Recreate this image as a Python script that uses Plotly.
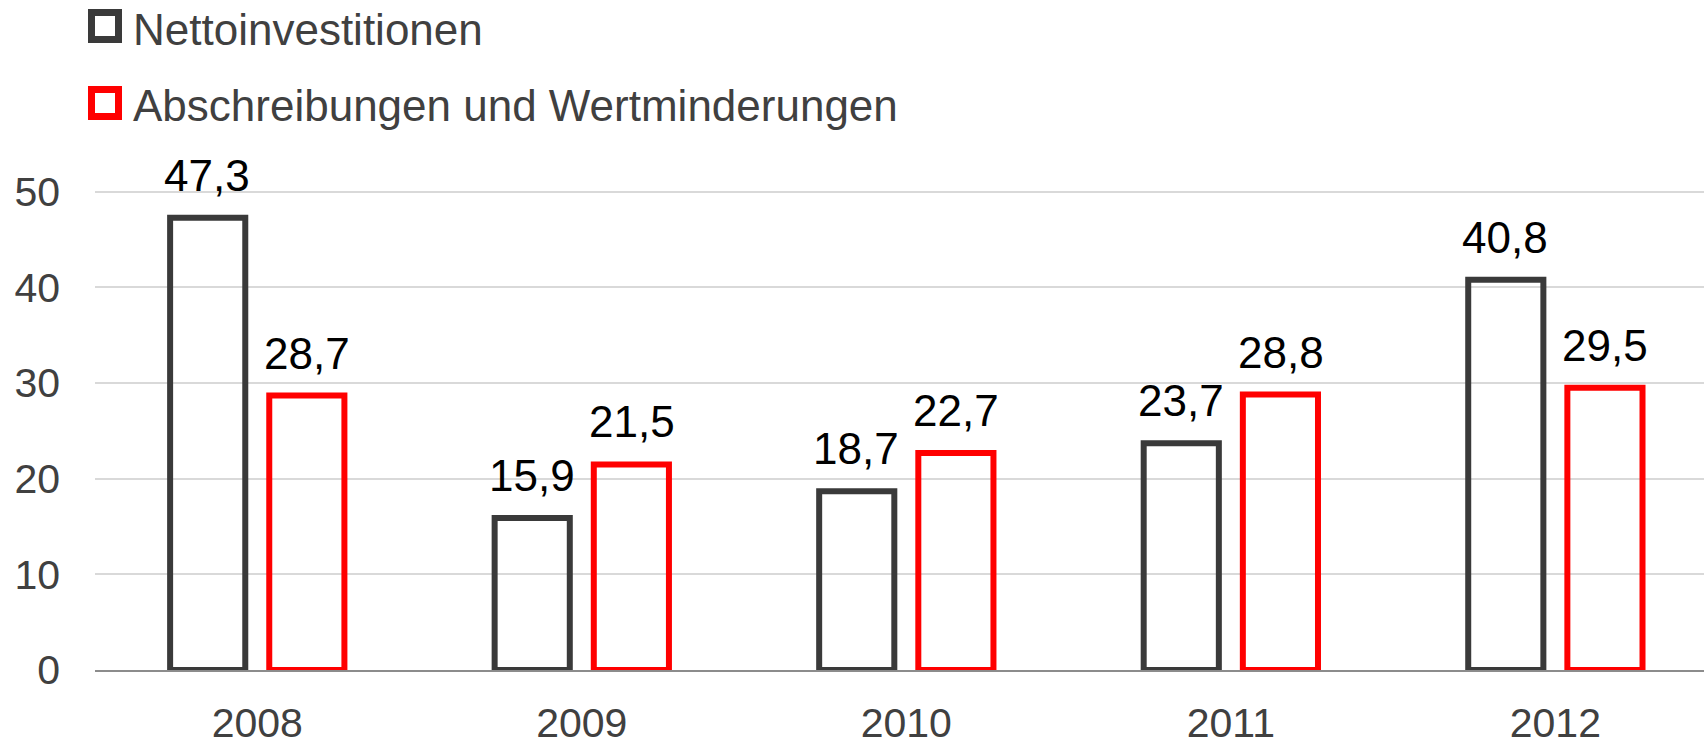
import plotly.graph_objects as go

years = ["2008", "2009", "2010", "2011", "2012"]
netto = [47.3, 15.9, 18.7, 23.7, 40.8]
abschr = [28.7, 21.5, 22.7, 28.8, 29.5]
series_names = ["Nettoinvestitionen", "Abschreibungen und Wertminderungen"]
y_ticks = [0, 10, 20, 30, 40, 50]

DARK = "#3a3a3a"
RED = "#ff0000"
FONT = "Liberation Sans, Arial, sans-serif"

def fmt(v):
    return f"{v:.1f}".replace(".", ",")

fig = go.Figure()
fig.add_trace(go.Bar(x=years, y=netto, name=series_names[0],
                     marker=dict(color="rgba(0,0,0,0)", line=dict(color=DARK, width=6)),
                     showlegend=False, hoverinfo="x+y"))
fig.add_trace(go.Bar(x=years, y=abschr, name=series_names[1],
                     marker=dict(color="rgba(0,0,0,0)", line=dict(color=RED, width=6)),
                     showlegend=False, hoverinfo="x+y"))

annotations = []
for series, shift in ((netto, -50), (abschr, 50)):
    for i, v in enumerate(series):
        annotations.append(dict(x=i, y=v, xref="x", yref="y", text=fmt(v), showarrow=False,
                                xanchor="center", yanchor="bottom", xshift=shift, yshift=16,
                                font=dict(family=FONT, size=44, color="#000000")))

# manual legend (above the plot area); offsets in px from the plot's top-left corner
leg_cols = [DARK, RED]
leg_text_shift = [114.5, 39]
leg_box = [(104.5, 131.5), (27.5, 54.5)]
shapes = []
for name, col, ys, (b0, b1) in zip(series_names, leg_cols, leg_text_shift, leg_box):
    shapes.append(dict(type="rect", xref="paper", yref="paper", xsizemode="pixel", ysizemode="pixel",
                       xanchor=0, yanchor=1, x0=-3.5, x1=23.5, y0=b0, y1=b1,
                       line=dict(color=col, width=7), fillcolor="rgba(0,0,0,0)"))
    annotations.append(dict(x=0, y=1, xref="paper", yref="paper", text=name, showarrow=False,
                            xanchor="left", yanchor="middle", xshift=36, yshift=ys,
                            font=dict(family=FONT, size=44, color="#404040")))

fig.update_layout(
    width=1704, height=747,
    margin=dict(l=95, r=0, t=144, b=77, autoexpand=False),
    paper_bgcolor="white", plot_bgcolor="white",
    barmode="group", bargap=0.389, bargroupgap=0.242,
    font=dict(family=FONT, color="#404040"),
    annotations=annotations, shapes=shapes,
    showlegend=False,
    xaxis=dict(type="category", range=[-0.5, 4.458], showgrid=False, automargin=False,
               showline=True, linecolor="#8c8c8c", linewidth=2,
               ticks="", ticklabelstandoff=16,
               tickfont=dict(family=FONT, size=41, color="#404040")),
    yaxis=dict(range=[0, 55], tickvals=y_ticks, showgrid=True, gridcolor="#d9d9d9", gridwidth=1.5,
               automargin=False, zeroline=False, showline=False, ticks="", ticklabelstandoff=34,
               tickfont=dict(family=FONT, size=41, color="#404040")),
)

# remove the default 8px body margin so the figure fills the window exactly
fig.write_html("out.html", config={"displayModeBar": False},
               post_script="document.body.style.margin='0px';")
